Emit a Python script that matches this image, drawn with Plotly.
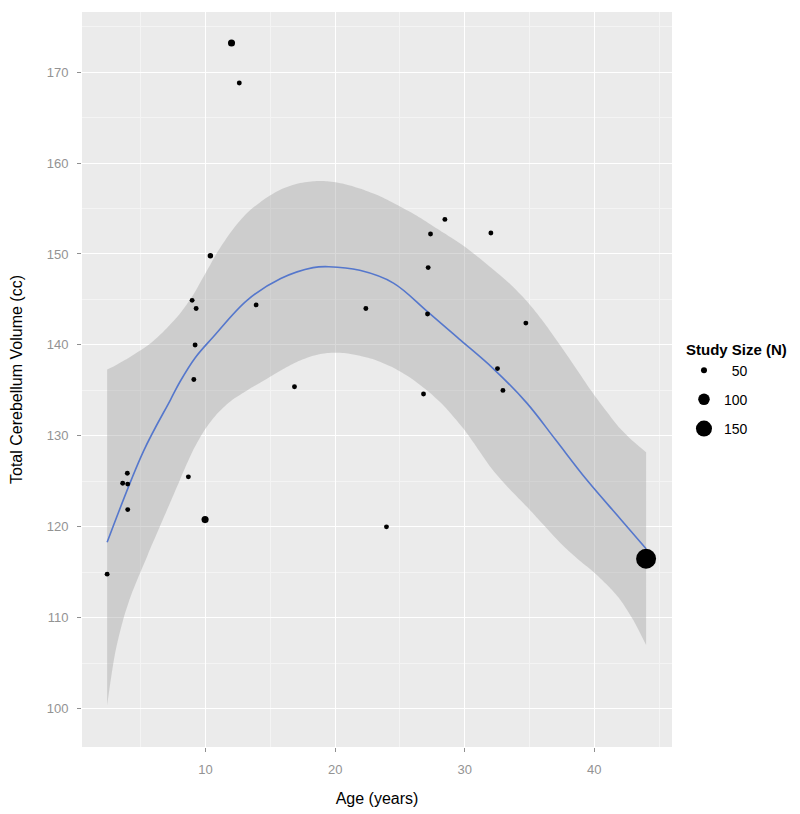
import plotly.graph_objects as go

# ---- data ----
age = [2.4, 3.96, 3.6, 3.99, 3.99, 8.67, 9.96, 10.37, 8.96, 9.27, 9.19, 9.09,
       13.9, 12.0, 12.6, 16.86, 28.47, 27.36, 32.02, 27.18, 22.37, 27.13,
       34.72, 32.53, 32.95, 26.82, 23.96, 44.0]
volume = [114.8, 125.9, 124.8, 124.7, 121.9, 125.5, 120.8, 149.8, 144.9, 144.0,
          140.0, 136.2, 144.4, 173.2, 168.8, 135.4, 153.8, 152.2, 152.3, 148.5,
          144.0, 143.4, 142.4, 137.4, 135.0, 134.6, 120.0, 116.5]
study_n = [40, 40, 40, 40, 40, 40, 60, 45, 40, 40, 40, 40, 40, 60, 40, 40,
           40, 40, 40, 40, 40, 40, 40, 40, 40, 40, 40, 177]

fit_x = [2.4, 5.2, 7.3, 8.0, 9.2, 10.6, 13.2, 15.8, 18.3, 19.5, 21.9, 24.5,
         27.1, 29.7, 32.2, 34.8, 37.0, 39.4, 42.0, 44.0]
fit_y = [118.3, 128.3, 134.0, 135.9, 138.6, 140.9, 144.9, 147.3, 148.5, 148.6,
         148.2, 146.8, 143.7, 140.5, 137.4, 133.6, 129.6, 125.2, 120.9, 117.6]

band_x = [2.4, 3.0, 3.6, 4.2, 5.5, 6.7, 8.0, 9.0, 10.0, 11.0, 12.0, 13.2, 14.5,
          15.8, 17.0, 18.3, 19.4, 20.7, 21.9, 23.2, 24.5, 25.8, 27.1, 28.4,
          29.9, 31.0, 32.2, 33.5, 34.8, 36.1, 37.4, 38.7, 39.9, 41.0, 42.0,
          43.0, 44.0]
band_upper = [137.3, 137.7, 138.2, 138.7, 139.9, 141.4, 143.4, 145.4, 147.9,
              150.4, 152.5, 154.5, 156.0, 157.1, 157.7, 158.0, 158.0, 157.7,
              157.2, 156.5, 155.6, 154.6, 153.5, 152.3, 150.9, 149.7, 148.3,
              146.7, 144.8, 142.5, 139.9, 137.2, 134.7, 132.6, 130.8, 129.4,
              128.2]
band_lower = [100.4, 106.0, 109.6, 112.3, 116.8, 120.8, 125.1, 128.3, 130.8,
              132.6, 133.9, 135.0, 136.1, 137.2, 138.1, 138.8, 139.1, 139.1,
              138.8, 138.3, 137.5, 136.4, 135.0, 133.3, 130.8, 128.6, 126.2,
              124.1, 122.2, 120.2, 118.2, 116.5, 115.1, 113.6, 112.0, 109.8,
              107.0]

legend_n = [50, 100, 150]
legend_labels = ["\u200750", "100", "150"]


def diam(n):
    return 0.11 * n + 0.5


fig = go.Figure()

fig.add_trace(go.Scatter(x=band_x, y=band_lower, mode="lines",
                         line=dict(width=0, shape="spline", smoothing=0.8),
                         hoverinfo="skip", showlegend=False))
fig.add_trace(go.Scatter(x=band_x, y=band_upper, mode="lines",
                         line=dict(width=0, shape="spline", smoothing=0.8),
                         fill="tonexty", fillcolor="rgba(165,165,165,0.42)",
                         hoverinfo="skip", showlegend=False))
fig.add_trace(go.Scatter(x=fit_x, y=fit_y, mode="lines",
                         line=dict(color="#5577CC", width=1.6, shape="spline"),
                         showlegend=False))
fig.add_trace(go.Scatter(x=age, y=volume, mode="markers",
                         marker=dict(color="black", opacity=1,
                                     size=[diam(n) for n in study_n],
                                     line=dict(width=0)),
                         showlegend=False))

for n, lab in zip(legend_n, legend_labels):
    fig.add_trace(go.Scatter(x=[None], y=[None], mode="markers", name=lab,
                             legendgroup=lab,
                             marker=dict(color="black", size=diam(n), opacity=1,
                                         line=dict(width=0))))

axis_common = dict(
    showgrid=True, gridcolor="white", gridwidth=1.4,
    zeroline=False, showline=False, automargin=False,
    ticks="outside", ticklen=4, tickwidth=1, tickcolor="#8f8f8f",
    ticklabelstandoff=6,
    tickfont=dict(size=13, color="#939393", family="Liberation Sans"),
    minor=dict(dtick=5, showgrid=True, gridcolor="#F4F4F4", gridwidth=0.8, ticks=""),
)

fig.update_xaxes(range=[0.46, 46.0], tick0=0, dtick=10,
                 title=dict(text="Age (years)", standoff=17,
                            font=dict(size=16, color="black", family="Liberation Sans")),
                 **axis_common)
fig.update_yaxes(range=[95.8, 176.6], tick0=0, dtick=10,
                 title=dict(text="Total Cerebellum Volume (cc)", standoff=21,
                            font=dict(size=16, color="black", family="Liberation Sans")),
                 **axis_common)

fig.update_layout(
    width=800, height=806,
    margin=dict(l=74, r=136, t=4, b=67),
    plot_bgcolor="#EBEBEB", paper_bgcolor="white",
    font=dict(family="Liberation Sans", color="black"),
    legend=dict(x=1.0203, y=0.5605, xanchor="left", yanchor="top",
                title=dict(text="<b>Study Size (N)</b>", font=dict(size=15, color="black")),
                font=dict(size=14, color="black"),
                itemsizing="trace", tracegroupgap=8, bgcolor="rgba(0,0,0,0)"),
)

fig.write_html("out.html")
